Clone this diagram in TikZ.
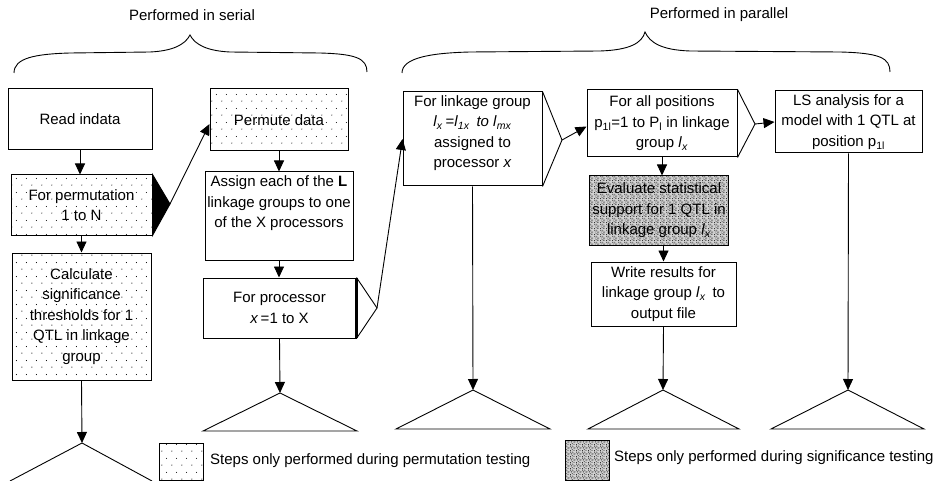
\documentclass[tikz,border=0pt]{standalone}
\usepackage{fontspec}
\setmainfont{Liberation Sans}
\usetikzlibrary{arrows.meta,patterns.meta,calc}

\tikzdeclarepattern{
  name=sparsedots, type=uncolored,
  bounding box={(0pt,0pt) and (10pt,14pt)},
  tile size={(10pt,14pt)},
  code={\fill (2pt,2pt) circle (0.6pt); \fill (7pt,9pt) circle (0.6pt);}
}
\tikzdeclarepattern{
  name=speckle, type=uncolored,
  bounding box={(0pt,0pt) and (6pt,6pt)},
  tile size={(6pt,6pt)},
  code={
    \fill (0pt,0pt) rectangle (1pt,1pt);
    \fill (2pt,1pt) rectangle (3pt,2pt);
    \fill (4pt,0pt) rectangle (5pt,1pt);
    \fill (1pt,3pt) rectangle (2pt,4pt);
    \fill (3pt,4pt) rectangle (4pt,5pt);
    \fill (5pt,3pt) rectangle (6pt,4pt);
    \fill (0pt,5pt) rectangle (1pt,6pt);
    \fill (4pt,2pt) rectangle (5pt,3pt);
    \fill (2pt,5pt) rectangle (3pt,6pt);
  }
}

\tikzset{
  txt/.style={font=\fontsize{15}{20.5}\selectfont},
  box/.style={draw, line width=1pt, inner sep=2pt, align=center, txt},
  dotbox/.style={box, pattern=sparsedots},
  speckbox/.style={box, preaction={fill=gray!35}, pattern=speckle, pattern color=black!80},
  conn/.style={line width=0.9pt, -{Triangle[width=10pt,length=11pt]}},
  plain/.style={line width=0.9pt},
  brace/.style={line width=0.9pt},
}

\begin{document}
\begin{tikzpicture}[x=1pt,y=-1pt]
\useasboundingbox (0,0) rectangle (939,481);
\fill[white] (0,0) rectangle (939,481);

% braces and titles
\node[txt] (serial) at (192,15) {Performed in serial};
\node[txt] (parallel) at (719,15) {Performed in parallel};
\draw[brace] (14,73) .. controls (14,58) and (35,54) .. (70,53) -- (150,52)
  .. controls (172,51) and (185,45) .. (190,35)
  .. controls (195,45) and (208,51) .. (230,52) -- (320,53)
  .. controls (355,54) and (367,58) .. (367,72);
\draw[brace] (402,73) .. controls (402,58) and (430,53) .. (470,52) -- (600,51)
  .. controls (630,50) and (642,43) .. (645,32)
  .. controls (650,43) and (662,50) .. (690,51) -- (840,52)
  .. controls (880,53) and (890,58) .. (890,72);

% boxes
\node[box, minimum width=144pt, minimum height=61pt] (read) at (80,119.5) {Read indata};
\node[dotbox, minimum width=141pt, minimum height=60pt] (perm) at (81.5,205) {For permutation\\1 to N};
\node[dotbox, minimum width=139pt, minimum height=127pt] (calc) at (81.5,316.5)
  {Calculate\\significance\\thresholds for 1\\QTL in linkage\\group};
\node[dotbox, minimum width=138pt, minimum height=62pt] (permute) at (279,120) {Permute data};
\node[box, minimum width=148pt, minimum height=88pt] (assign) at (279,216)
  {Assign each of the \textbf{L}\\linkage groups to one\\of the X processors\\[8pt]\mbox{}};
\node[box, minimum width=153pt, minimum height=60pt] (proc) at (279.5,308)
  {For processor\\\textit{x}\,=1 to X};
\node[box, minimum width=139pt, minimum height=94pt] (link) at (472.5,139)
  {For linkage group\\\textit{l}\textsubscript{\textit{x}}\,=\textit{l}\textsubscript{\textit{1x}}\, \textit{to l}\textsubscript{\textit{mx}}\\assigned to\\processor \textit{x}\\[-6pt]\mbox{}};
\node[box, minimum width=150pt, minimum height=67pt] (allpos) at (662,123.5)
  {For all positions\\p\textsubscript{1l}=1 to P\textsubscript{l} in linkage\\group \textit{l}\textsubscript{\textit{x}}};
\node[speckbox, minimum width=139pt, minimum height=69pt] (eval) at (659,210.5)
  {Evaluate statistical\\support for 1 QTL in\\linkage group \textit{l}\textsubscript{\textit{x}}};
\node[box, minimum width=145pt, minimum height=64pt] (write) at (663.5,294)
  {Write results for\\linkage group \textit{l}\textsubscript{\textit{x}}\, to\\output file};
\node[box, minimum width=147pt, minimum height=62pt] (ls) at (848.5,122)
  {LS analysis for a\\model with 1 QTL at\\position p\textsubscript{1l}};

% thick right edge of processor box
\draw[line width=3pt] ([yshift=-0.5pt]proc.north east) -- ([yshift=0.5pt]proc.south east);

% side triangles
\coordinate (permtip) at (170,204);
\coordinate (proctip) at (377,308);
\coordinate (linktip) at (562,140);
\coordinate (alltip) at (755,124);
\filldraw[line width=0.9pt] (perm.north east) -- (permtip) -- (perm.south east) -- cycle;
\draw[plain] (proc.north east) -- (proctip) -- (proc.south east);
\draw[plain] (link.north east) -- (linktip) -- (link.south east);
\draw[plain] (allpos.north east) -- (alltip) -- (allpos.south east);

% bottom triangles
\coordinate (t1) at (82,443);
\coordinate (t2) at (280,393);
\coordinate (t3) at (473,390);
\coordinate (t4) at (663,390);
\coordinate (t5) at (848,390);
\draw[plain] ($(t1)+(-72,38)$) -- (t1) -- ($(t1)+(70,38)$);
\draw[plain] (t2) -- ++(77,38) -- ++(-154,0) -- cycle;
\draw[plain] (t3) -- ++(77,39) -- ++(-154,0) -- cycle;
\draw[plain] (t4) -- ++(76,39) -- ++(-151,0) -- cycle;
\draw[plain] (t5) -- ++(76,39) -- ++(-153,0) -- cycle;

% connectors
\draw[conn] (read.south) -- (read.south |- perm.north);
\draw[conn] (perm.south) -- (perm.south |- calc.north);
\draw[conn] (calc.south) -- (t1);
\draw[conn] (permtip) -- ([yshift=-4pt]permute.west);
\draw[conn] (permute.south) -- (permute.south |- assign.north);
\draw[conn] (assign.south) -- (assign.south |- proc.north);
\draw[conn] (proc.south) -- (t2);
\draw[conn] (proctip) -- (link.west);
\draw[conn] (link.south) -- (t3);
\draw[conn] (linktip) -- ([yshift=-3pt]allpos.west);
\draw[conn] (alltip) -- (ls.west);
\draw[conn] (allpos.south) -- (allpos.south |- eval.north);
\draw[conn] (eval.south -| write.north) -- (write.north);
\draw[conn] (write.south) -- (t4);
\draw[conn] (ls.south) -- (t5);

% legend
\node[draw, line width=0.8pt, pattern=sparsedots, minimum width=44pt, minimum height=37pt, inner sep=0pt] (leg1) at (181,461.5) {};
\node[txt, anchor=west, inner sep=0pt] (leg1t) at (210,461) {Steps only performed during permutation testing};
\node[draw, line width=0.8pt, preaction={fill=gray!35}, pattern=speckle, pattern color=black!80, minimum width=44pt, minimum height=40pt, inner sep=0pt] (leg2) at (587,460) {};
\node[txt, anchor=west, inner sep=0pt] (leg2t) at (614,458) {Steps only performed during significance testing};
\end{tikzpicture}
\end{document}
